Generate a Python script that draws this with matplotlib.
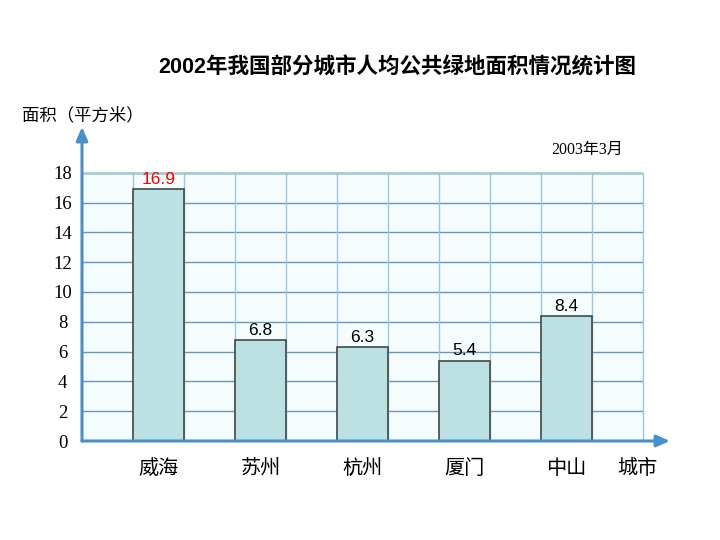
import matplotlib
matplotlib.use("Agg")
import matplotlib.pyplot as plt

plt.rcParams["font.family"] = ["Noto Sans CJK SC", "DejaVu Sans"]

# data
cities = ["威海", "苏州", "杭州", "厦门", "中山"]
areas = [16.9, 6.8, 6.3, 5.4, 8.4]
label_colors = ["red", "black", "black", "black", "black"]
y_ticks = list(range(0, 19, 2))

title = "2002年我国部分城市人均公共绿地面积情况统计图"
y_title = "面积（平方米）"
x_title = "城市"
date_note = "2003年3月"

# each city takes two grid columns, bar sits in the second one
positions = [2 * i + 1.5 for i in range(len(cities))]
n_cols = 11

fig = plt.figure(figsize=(7.2, 5.4), dpi=100)
ax = fig.add_axes([82 / 720, 99 / 540, 588 / 720, 314 / 540])
ax.set_xlim(0, 11.53)
ax.set_ylim(0, 21.07)
for s in ax.spines.values():
    s.set_visible(False)

# grid area
ax.fill_between([0, n_cols], 0, y_ticks[-1], color="#f5fcfe", zorder=0)
ax.hlines(y_ticks[1:-1], 0, n_cols, color="#6a96b4", lw=1, zorder=1)
ax.hlines(y_ticks[-1], 0, n_cols, color="#a9cbd3", lw=2, zorder=1)
ax.vlines(range(1, n_cols + 1), 0, y_ticks[-1], color="#9cc4e4", lw=1, zorder=1)

# bars
ax.bar(positions, areas, width=1.0, color="#bde0e3", edgecolor="#404848",
       linewidth=1.2, zorder=2)
for x, v, c in zip(positions, areas, label_colors):
    ax.annotate(f"{v}", (x, v), xytext=(0, 1.5), textcoords="offset points",
                ha="center", va="bottom", color=c, fontsize=12.5,
                family="Liberation Sans", zorder=3)

# arrow axes
arrow = dict(arrowstyle="-|>,head_width=0.35,head_length=0.8",
             color="#4a90c8", lw=2.2, shrinkA=0, shrinkB=0)
ax.annotate("", xy=(0, 21.07), xytext=(0, 0), arrowprops=arrow, zorder=4,
            annotation_clip=False)
ax.annotate("", xy=(11.53, 0), xytext=(0, 0), arrowprops=arrow, zorder=4,
            annotation_clip=False)

# ticks
ax.set_yticks(y_ticks)
ax.set_yticklabels([str(t) for t in y_ticks], family="Liberation Serif",
                   fontsize=13.5, ha="center")
ax.tick_params(axis="y", length=0, pad=14)
ax.set_xticks(positions)
ax.set_xticklabels(cities, fontsize=14.5)
ax.tick_params(axis="x", length=0, pad=12)

ax.annotate(x_title, (10.88, 0), xytext=(0, -12), textcoords="offset points",
            ha="center", va="top", fontsize=14.5, annotation_clip=False)

fig.text(397 / 720, 1 - 68 / 540, title, ha="center", va="center",
         fontsize=15.5, weight="bold",
         family=["Liberation Sans", "Noto Sans CJK SC"])
fig.text(22 / 720, 1 - 115 / 540, y_title, ha="left", va="center", fontsize=12.5)
fig.text(587 / 720, 1 - 150 / 540, date_note, ha="center", va="center",
         fontsize=11.5, family=["Liberation Serif", "Noto Sans CJK SC"])

fig.savefig("out.png", dpi=100)
